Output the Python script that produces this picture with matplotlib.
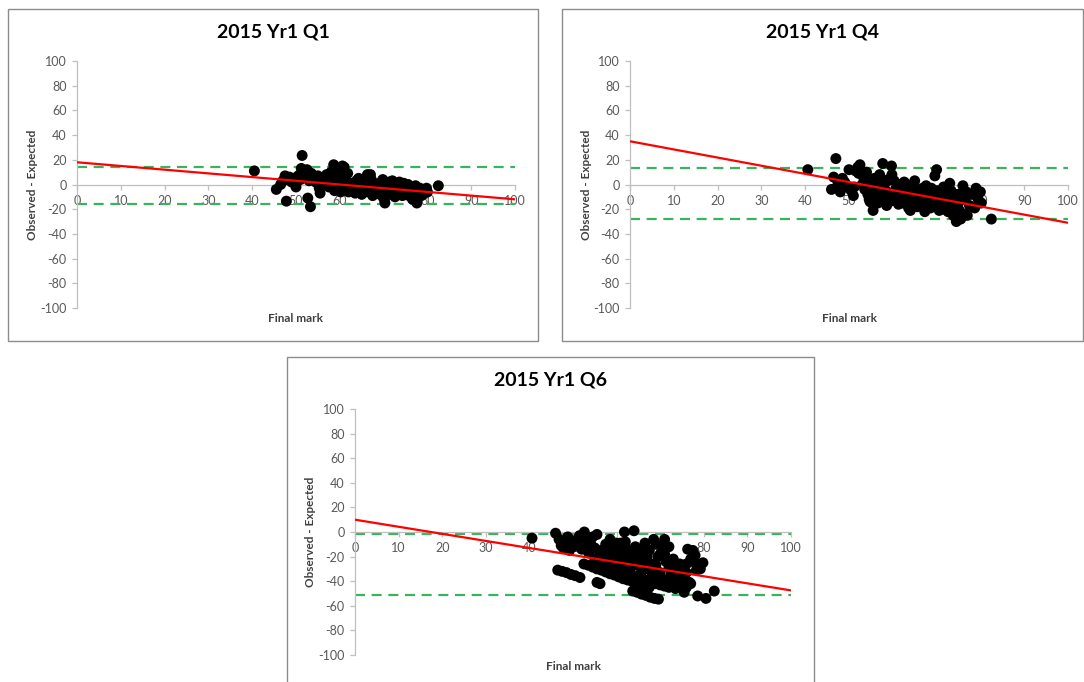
import matplotlib
matplotlib.use("Agg")
import matplotlib.pyplot as plt
from matplotlib.patches import Rectangle

# ---- data -------------------------------------------------------------
titles = ["2015 Yr1 Q1", "2015 Yr1 Q4", "2015 Yr1 Q6"]
x_ticks = [0, 10, 20, 30, 40, 50, 60, 70, 80, 90, 100]
y_ticks = [-100, -80, -60, -40, -20, 0, 20, 40, 60, 80, 100]
trend_x = [0, 100]

q1_mark = [40.5, 45.5, 46.5, 47, 47.5, 47.8, 48.5, 49, 49.5, 50, 50.5, 51, 51.2, 51.4,
           51.8, 52, 52.5, 52.7, 53, 53.3, 53.5, 54, 54.5, 55, 55.3, 55.5, 56, 56.5,
           57, 57.5, 57.8, 58, 58.3, 58.6, 58.8, 59, 59.5, 60, 60.3, 60.6, 61, 61.3,
           61.5, 62, 62.3, 62.8, 63, 63.5, 64, 64.3, 64.6, 65, 65.3, 65.6, 66, 66.3,
           66.6, 67, 67.3, 67.5, 68, 68.5, 69, 69.5, 69.8, 70, 70.3, 70.5, 71, 71.3,
           71.6, 72, 72.3, 72.6, 73, 73.3, 73.6, 74, 74.3, 74.6, 75, 75.3, 75.6, 76,
           76.3, 76.6, 77, 77.3, 77.6, 78, 78.3, 78.6, 79, 79.3, 79.6, 80, 82.5,
           48, 53.8, 56.8, 59.8, 61.8, 64.8, 67.8, 70.8, 73.8, 76.8,
           57.2, 59.2, 60.8, 62.6, 63.8, 65.8, 67.2, 68.8, 70.2, 71.8,
           72.8, 74.8, 75.8, 77.8, 78.8, 79.8, 60.2, 66.2, 69.2, 73.2]
q1_diff = [11, -4, 0, 3, 7, -13.5, 6, 2, 5, -2, 7, 4, 13, 23.5,
           10, 6, 12, -11, 3, -18, 9, 6, 2, 7, -3, -7, 1, 4,
           8, -2, 5, 10, 3, 16, -5, 8, 13, 2, -4, 15, 14, 6,
           -2, -6, 1, -5, -3, -7, 2, 5, -2, -8, 0, 4, -4, 8,
           -6, 8, -2, -9, -3, -1, 1, -4, 4, -11, -15, -6, -2, 2,
           -8, 3, -5, -10, 0, -3, 2, -6, -9, 1, -4, -7, 0, -2,
           -8, -12, -4, -1, -15, -6, -3, -9, -5, -7, -4, -6, -1,
           4, 4, 0, 6, 9, 3, -6, -4, -1, -10,
           2, 4, 9, -1, 3, -6, 4, -7, 1, -4,
           -2, -5, -9, -10, -8, -3, -6, 1, -8, -6]
q1_trend = [18, -12]
q1_limits = [14, -16]

q4_mark = [40.6, 46, 46.5, 47, 47.5, 48, 48.5, 49, 49.5, 50, 50.5, 51, 51.5, 52,
           52.5, 53, 53.3, 53.6, 54, 54.3, 54.6, 55, 55.3, 55.5, 56, 56.3, 56.6, 57,
           57.3, 57.7, 58, 58.3, 58.6, 59, 59.3, 59.7, 60, 60.3, 60.6, 61, 61.3, 61.6,
           62, 62.3, 62.6, 63, 63.3, 63.6, 64, 64.3, 64.6, 65, 65.3, 65.6, 66, 66.3,
           66.6, 67, 67.3, 67.6, 68, 68.3, 68.6, 69, 69.3, 69.6, 70, 70.3, 70.6, 71,
           71.3, 71.6, 72, 72.3, 72.6, 73, 73.3, 73.6, 74, 74.5, 74.8, 75, 75.5, 76,
           76.2, 76.5, 77, 77.5, 78, 78.7, 79, 79.5, 80, 80.2, 82.5,
           52.2, 55.8, 58.8, 61.8, 64.2, 66.8, 69.2, 71.8, 74.2, 76.8,
           53.8, 54.8, 56.2, 57.2, 58.2, 59.2, 60.2, 61.2, 62.2, 63.2,
           64.2, 65.2, 66.2, 67.2, 68.2, 69.2, 70.2, 71.2, 72.2, 73.2,
           74.2, 75.2, 56.8, 59.8, 62.8, 65.8, 68.8, 71.8, 73.8, 51.2]
q4_diff = [12, -4, 6, 21, 1, -6, 5, 2, -2, 12, -5, -9, 11, 14,
           16, 0, 6, -4, 10, -8, -12, 2, -6, -21, -10, -3, -15, 8,
           -6, 17, 0, -11, -17, 4, -8, 15, -13, 3, -4, -9, -16, 0,
           -6, -12, 2, -3, -10, -19, -21, -7, 0, 3, -14, -18, -9, -5,
           -12, -16, -22, -1, -8, -13, -19, -4, -11, 7, 12, -16, -21, -6,
           -13, -2, -9, -17, -22, 1, -5, -12, -19, -30, -8, -15, -28, -1,
           -24, -12, -25, -17, -8, -19, -3, -12, -6, -15, -28,
           9, 5, 3, -2, -4, -3, -14, -9, -10, -6,
           -2, -14, -7, -12, -4, -14, -8, -3, -15, -7,
           -14, -4, -17, -9, -15, -7, -5, -18, -13, -9,
           -15, -21, 3, 8, -9, -11, -3, -20, -25, -2]
q4_trend = [35, -31]
q4_limits = [13, -28]

q6_mark = [40.6, 46, 46.8, 47.3, 47.8, 48.2, 48.8, 49.2, 50, 50.5, 51, 51.5, 52, 52.6,
           53, 53.3, 53.6, 54, 54.5, 55, 55.5, 56, 56.5, 57, 57.5, 58, 58.5, 59,
           59.5, 60, 60.5, 61, 61.5, 61.8, 62, 62.5, 63, 63.5, 64, 64.3, 64.6, 65,
           65.5, 66, 66.5, 67, 67.5, 68, 68.5, 69, 69.5, 70, 70.5, 71, 71.3, 71.6,
           72, 72.5, 73, 73.5, 74, 74.5, 75, 75.5, 76, 76.3, 76.7, 77, 77.5, 78,
           78.3, 78.6, 79.2, 79.8, 80.5, 82.4,
           46.5, 47.5, 48.5, 49.5, 50.5, 51.6,
           52.5, 53.5, 54.5, 55.5, 56.5, 57.5, 58.5, 59.5, 60.5, 61.5, 62.5, 63.5,
           64.5, 65.5, 66.5, 67.5, 55.5, 56.2,
           63.7, 64.7, 65.7, 66.7, 67.7, 68.7, 69.6,
           55, 56, 57, 58, 59, 60, 61, 62, 63, 64, 65, 66, 67, 68, 69, 70, 71, 72,
           58, 59, 60, 62, 63, 65, 66, 68, 69, 70, 72, 73, 74, 75, 76, 77,
           60, 61, 63, 64, 66, 67, 69, 70, 71, 72, 73, 74, 75, 76, 78]
q6_diff = [-5, -1, -6, -11, -13, -8, -4, -15, -12, -7, -10, -3, -14, 0,
           -6, -12, -17, -9, -4, -13, -2, -20, -15, -24, -10, -18, -6, -22,
           -13, -28, -17, -9, -25, 0, -20, -14, -31, -22, 1, -12, -27, -18,
           -34, -24, -9, -30, -15, -37, -6, -27, -20, -33, -12, -6, -24, -40,
           -29, -35, -22, -46, -31, -26, -37, -49, -33, -14, -41, -22, -15, -19,
           -31, -52, -30, -25, -54, -48,
           -31, -32, -33, -34.5, -35.5, -37,
           -26, -27, -28.5, -30, -31, -32.5, -34, -35, -36.5, -38, -39, -40,
           -41.5, -42.5, -44, -45, -41, -42,
           -48, -49, -50.5, -51.5, -53, -54, -54.6,
           -22, -23, -25, -27, -28, -30, -31, -33, -34, -36, -37, -38, -40, -41, -42, -43, -44, -45,
           -12, -16, -20, -8, -16, -24, -28, -26, -32, -37, -38, -40, -42, -43, -45, -42,
           -9, -14, -20, -18, -14, -20, -10, -18, -18, -12, -28, -33, -30, -26, -25]
q6_trend = [10, -47.5]
q6_limits = [-2, -51]

# ---- layout (pixel boxes on a 1084 x 682 canvas) ----------------------
W, H = 1084, 682
FONT = ["Lato", "DejaVu Sans"]
plt.rcParams["font.family"] = FONT

fig = plt.figure(figsize=(W / 100, H / 100), dpi=100)
fig.patch.set_facecolor("white")


def fx(px):
    return px / W


def fy(py):
    return 1 - py / H


panels = [
    # border (l, t, r, b), plot area (l, t, r, b)
    dict(border=(8, 9, 538, 341), plot=(77, 61, 515, 308)),
    dict(border=(562, 9, 1083, 341), plot=(630, 61, 1068, 308)),
    dict(border=(287, 357, 814, 690), plot=(355, 409, 791, 655)),
]
series = [
    (q1_mark, q1_diff, q1_trend, q1_limits),
    (q4_mark, q4_diff, q4_trend, q4_limits),
    (q6_mark, q6_diff, q6_trend, q6_limits),
]

AXIS_GREY = "#BFBFBF"
TEXT_GREY = "#595959"
GREEN = "#3BB35C"

for title, panel, (mark, diff, trend, limits) in zip(titles, panels, series):
    bl, bt, br, bb = panel["border"]
    fig.add_artist(Rectangle((fx(bl), fy(bb)), fx(br - bl), (bb - bt) / H,
                             transform=fig.transFigure, fill=False,
                             edgecolor="#8C8C8C", linewidth=1.0))

    pl, pt, pr, pb = panel["plot"]
    ax = fig.add_axes([fx(pl), fy(pb), fx(pr - pl), (pb - pt) / H])
    ax.set_xlim(0, 100)
    ax.set_ylim(-100, 100)
    ax.patch.set_alpha(0)

    for side in ("top", "right"):
        ax.spines[side].set_visible(False)
    ax.spines["left"].set_color(AXIS_GREY)
    ax.spines["bottom"].set_color(AXIS_GREY)
    ax.spines["left"].set_linewidth(0.9)
    ax.spines["bottom"].set_linewidth(0.9)
    ax.spines["bottom"].set_position(("data", 0))

    ax.set_xticks(x_ticks)
    ax.set_yticks(y_ticks)
    ax.set_xticklabels([str(v) for v in x_ticks])
    ax.set_yticklabels([str(v) for v in y_ticks])
    ax.tick_params(axis="both", colors=AXIS_GREY, labelcolor=TEXT_GREY,
                   labelsize=9, length=3.5, width=0.9, direction="out")
    ax.tick_params(axis="y", pad=4)
    ax.tick_params(axis="x", pad=4)

    # control limits
    for lim in limits:
        ax.plot(trend_x, [lim, lim], color=GREEN, linewidth=1.6,
                dashes=(4.5, 3), zorder=2)

    ax.scatter(mark, diff, s=62, color="black", edgecolors="none", zorder=3,
               clip_on=False)

    ax.plot(trend_x, trend, color="#FF0000", linewidth=1.6, zorder=4,
            solid_capstyle="butt")

    # titles and axis labels
    fig.text(fx((bl + br) / 2), fy(bt + 23), title, ha="center", va="center",
             fontsize=14, fontweight="bold", color="black")
    fig.text(fx((pl + pr) / 2), fy(pb + 11), "Final mark", ha="center",
             va="center", fontsize=8.5, fontweight="bold", color="#404040")
    fig.text(fx(pl - 44), fy((pt + pb) / 2), "Observed - Expected",
             ha="center", va="center", rotation=90, fontsize=8.5,
             fontweight="bold", color="#404040")

fig.savefig("out.png", dpi=100, facecolor="white")
